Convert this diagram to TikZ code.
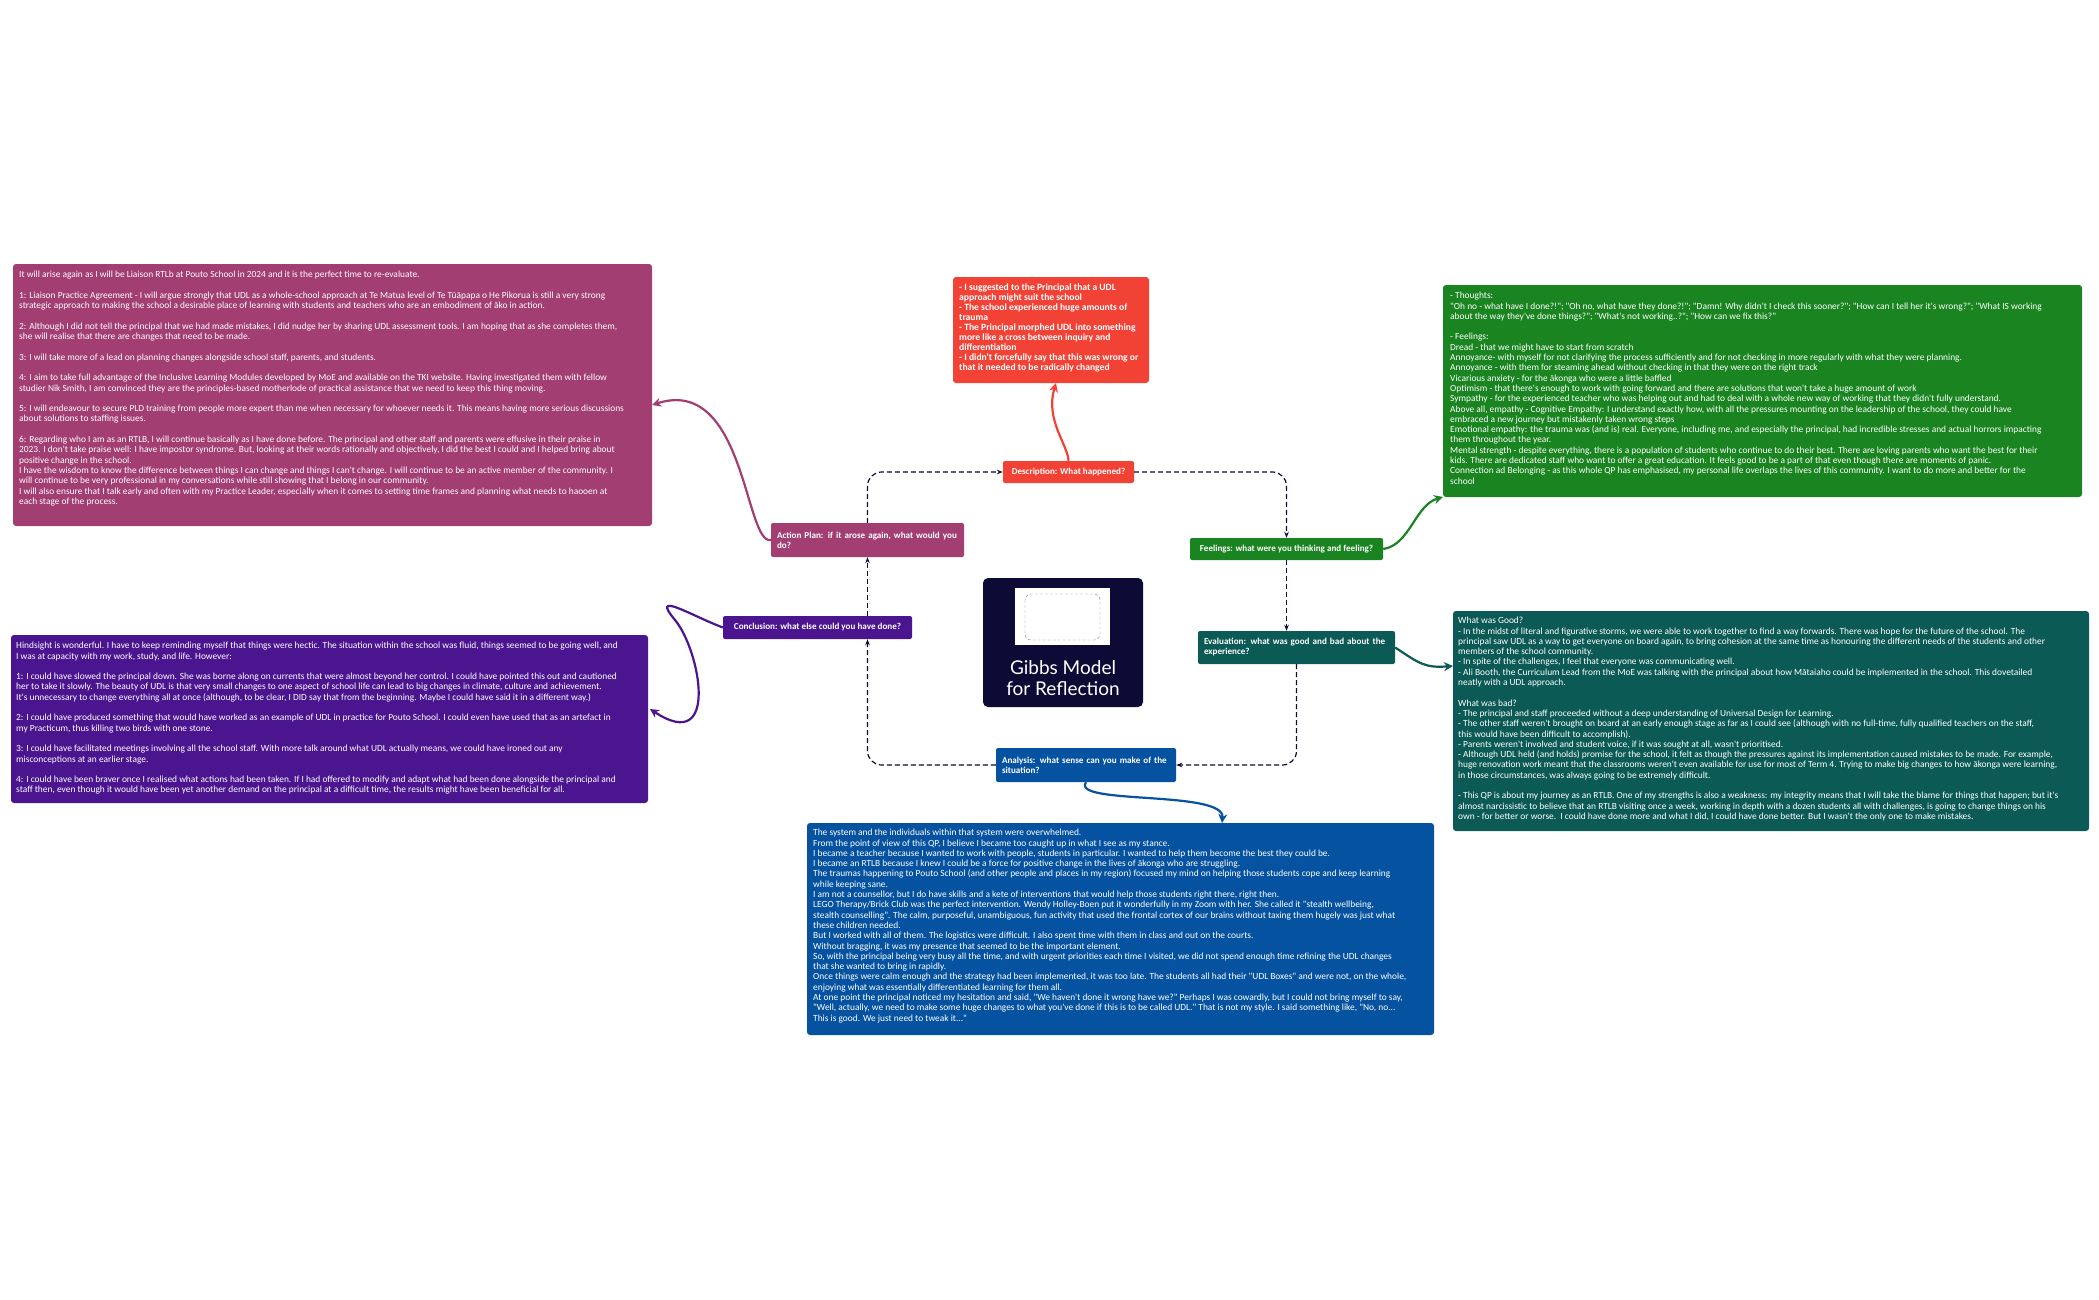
\documentclass[tikz,border=0pt]{standalone}
\usepackage{fontspec}
\setmainfont{Carlito}
\newfontfamily\boxfont{Carlito}
\newfontfamily\titlefont{Lato}
\usetikzlibrary{arrows.meta}
\definecolor{cmag}{HTML}{A23E72}
\definecolor{cpur}{HTML}{4B1590}
\definecolor{cred}{HTML}{F24236}
\definecolor{cgrn}{HTML}{1A8421}
\definecolor{cteal}{HTML}{0B5A55}
\definecolor{cblue}{HTML}{0553A0}
\definecolor{cnavy}{HTML}{0D0B36}
\tikzset{
  box/.style={rounded corners=3pt},
  txt/.style={anchor=north west,inner sep=0pt,align=left,text=white,font=\boxfont\fontsize{9.4}{10.3}\selectfont},
  stage/.style={rounded corners=2pt,text=white,font=\boxfont\bfseries\fontsize{9.1}{10}\selectfont,align=left,inner sep=0pt},
  cyc/.style={draw=cnavy,dash pattern=on 5pt off 3pt,line width=1.2pt,rounded corners=14pt,-{Stealth[length=6pt]}},
  link/.style={line width=2.2pt,-{Stealth[length=9pt,width=9pt]}},
}
\begin{document}
\begin{tikzpicture}[x=1pt,y=-1pt]
\useasboundingbox[fill=white] (0,0) rectangle (2099,1300);
% text boxes
\fill[box,cmag] (13,264) rectangle (652,526);
\node[txt] (tA) at (19,271) {It will arise again as I will be Liaison RTLb at Pouto School in 2024 and it is the perfect time to re-evaluate.\\[10.3pt]
1: Liaison Practice Agreement - I will argue strongly that UDL as a whole-school approach at Te Matua level of Te Tūāpapa o He Pikorua is still a very strong\\
strategic approach to making the school a desirable place of learning with students and teachers who are an embodiment of āko in action.\\[10.3pt]
2: Although I did not tell the principal that we had made mistakes, I did nudge her by sharing UDL assessment tools. I am hoping that as she completes them,\\
she will realise that there are changes that need to be made.\\[10.3pt]
3: I will take more of a lead on planning changes alongside school staff, parents, and students.\\[10.3pt]
4: I aim to take full advantage of the Inclusive Learning Modules developed by MoE and available on the TKI website. Having investigated them with fellow\\
studier Nik Smith, I am convinced they are the principles-based motherlode of practical assistance that we need to keep this thing moving.\\[10.3pt]
5: I will endeavour to secure PLD training from people more expert than me when necessary for whoever needs it. This means having more serious discussions\\
about solutions to staffing issues.\\[10.3pt]
6: Regarding who I am as an RTLB, I will continue basically as I have done before. The principal and other staff and parents were effusive in their praise in\\
2023. I don't take praise well: I have impostor syndrome. But, looking at their words rationally and objectively, I did the best I could and I helped bring about\\
positive change in the school.\\
I have the wisdom to know the difference between things I can change and things I can't change. I will continue to be an active member of the community. I\\
will continue to be very professional in my conversations while still showing that I belong in our community.\\
I will also ensure that I talk early and often with my Practice Leader, especially when it comes to setting time frames and planning what needs to haooen at\\
each stage of the process.};
\fill[box,cpur] (11,635) rectangle (648,803);
\node[txt] (tC) at (16,642) {Hindsight is wonderful. I have to keep reminding myself that things were hectic. The situation within the school was fluid, things seemed to be going well, and\\
I was at capacity with my work, study, and life. However:\\[10.3pt]
1: I could have slowed the principal down. She was borne along on currents that were almost beyond her control. I could have pointed this out and cautioned\\
her to take it slowly. The beauty of UDL is that very small changes to one aspect of school life can lead to big changes in climate, culture and achievement.\\
It's unnecessary to change everything all at once (although, to be clear, I DID say that from the beginning. Maybe I could have said it in a different way.)\\[10.3pt]
2: I could have produced something that would have worked as an example of UDL in practice for Pouto School. I could even have used that as an artefact in\\
my Practicum, thus killing two birds with one stone.\\[10.3pt]
3: I could have facilitated meetings involving all the school staff. With more talk around what UDL actually means, we could have ironed out any\\
misconceptions at an earlier stage.\\[10.3pt]
4: I could have been braver once I realised what actions had been taken. If I had offered to modify and adapt what had been done alongside the principal and\\
staff then, even though it would have been yet another demand on the principal at a difficult time, the results might have been beneficial for all.};
\fill[box,cred] (953,277) rectangle (1149,383);
\node[txt,font=\boxfont\bfseries\fontsize{9.6}{10}\selectfont] (tD) at (959,284) {- I suggested to the Principal that a UDL\\
approach might suit the school\\
- The school experienced huge amounts of\\
trauma\\
- The Principal morphed UDL into something\\
more like a cross between inquiry and\\
differentiation\\
- I didn't forcefully say that this was wrong or\\
that it needed to be radically changed};
\fill[box,cgrn] (1443,285) rectangle (2082,497);
\node[txt] (tF) at (1450,292) {- Thoughts:\\
"Oh no - what have I done?!"; "Oh no, what have they done?!"; "Damn! Why didn't I check this sooner?"; "How can I tell her it's wrong?"; "What IS working\\
about the way they've done things?"; "What's not working..?"; "How can we fix this?"\\[10.3pt]
- Feelings:\\
Dread - that we might have to start from scratch\\
Annoyance- with myself for not clarifying the process sufficiently and for not checking in more regularly with what they were planning.\\
Annoyance - with them for steaming ahead without checking in that they were on the right track\\
Vicarious anxiety - for the ākonga who were a little baffled\\
Optimism - that there's enough to work with going forward and there are solutions that won't take a huge amount of work\\
Sympathy - for the experienced teacher who was helping out and had to deal with a whole new way of working that they didn't fully understand.\\
Above all, empathy - Cognitive Empathy: I understand exactly how, with all the pressures mounting on the leadership of the school, they could have\\
embraced a new journey but mistakenly taken wrong steps\\
Emotional empathy: the trauma was (and is) real. Everyone, including me, and especially the principal, had incredible stresses and actual horrors impacting\\
them throughout the year.\\
Mental strength - despite everything, there is a population of students who continue to do their best. There are loving parents who want the best for their\\
kids. There are dedicated staff who want to offer a great education. It feels good to be a part of that even though there are moments of panic.\\
Connection ad Belonging - as this whole QP has emphasised, my personal life overlaps the lives of this community. I want to do more and better for the\\
school};
\fill[box,cteal] (1453,611) rectangle (2089,831);
\node[txt] (tE) at (1458,617) {What was Good?\\
- In the midst of literal and figurative storms, we were able to work together to find a way forwards. There was hope for the future of the school. The\\
principal saw UDL as a way to get everyone on board again, to bring cohesion at the same time as honouring the different needs of the students and other\\
members of the school community.\\
- In spite of the challenges, I feel that everyone was communicating well.\\
- Ali Booth, the Curriculum Lead from the MoE was talking with the principal about how Mātaiaho could be implemented in the school. This dovetailed\\
neatly with a UDL approach.\\[10.3pt]
What was bad?\\
- The principal and staff proceeded without a deep understanding of Universal Design for Learning.\\
- The other staff weren't brought on board at an early enough stage as far as I could see (although with no full-time, fully qualified teachers on the staff,\\
this would have been difficult to accomplish).\\
- Parents weren't involved and student voice, if it was sought at all, wasn't prioritised.\\
- Although UDL held (and holds) promise for the school, it felt as though the pressures against its implementation caused mistakes to be made. For example,\\
huge renovation work meant that the classrooms weren't even available for use for most of Term 4. Trying to make big changes to how ākonga were learning,\\
in those circumstances, was always going to be extremely difficult.\\[10.3pt]
- This QP is about my journey as an RTLB. One of my strengths is also a weakness: my integrity means that I will take the blame for things that happen; but it's\\
almost narcissistic to believe that an RTLB visiting once a week, working in depth with a dozen students all with challenges, is going to change things on his\\
own - for better or worse.\ \ I could have done more and what I did, I could have done better. But I wasn't the only one to make mistakes.};
\fill[box,cblue] (807,823) rectangle (1434,1035);
\node[txt] (tN) at (813,829) {The system and the individuals within that system were overwhelmed.\\
From the point of view of this QP, I believe I became too caught up in what I see as my stance.\\
I became a teacher because I wanted to work with people, students in particular. I wanted to help them become the best they could be.\\
I became an RTLB because I knew I could be a force for positive change in the lives of ākonga who are struggling.\\
The traumas happening to Pouto School (and other people and places in my region) focused my mind on helping those students cope and keep learning\\
while keeping sane.\\
I am not a counsellor, but I do have skills and a kete of interventions that would help those students right there, right then.\\
LEGO Therapy/Brick Club was the perfect intervention. Wendy Holley-Boen put it wonderfully in my Zoom with her. She called it "stealth wellbeing,\\
stealth counselling". The calm, purposeful, unambiguous, fun activity that used the frontal cortex of our brains without taxing them hugely was just what\\
these children needed.\\
But I worked with all of them. The logistics were difficult. I also spent time with them in class and out on the courts.\\
Without bragging, it was my presence that seemed to be the important element.\\
So, with the principal being very busy all the time, and with urgent priorities each time I visited, we did not spend enough time refining the UDL changes\\
that she wanted to bring in rapidly.\\
Once things were calm enough and the strategy had been implemented, it was too late. The students all had their "UDL Boxes" and were not, on the whole,\\
enjoying what was essentially differentiated learning for them all.\\
At one point the principal noticed my hesitation and said, "We haven't done it wrong have we?" Perhaps I was cowardly, but I could not bring myself to say,\\
"Well, actually, we need to make some huge changes to what you've done if this is to be called UDL." That is not my style. I said something like, "No, no...\\
This is good. We just need to tweak it..."};
% centre
\fill[box,rounded corners=5pt,cnavy] (983,578) rectangle (1143,707);
\fill[white] (1015,588) rectangle (1110,645);
\draw[gray,densely dashed,rounded corners=6pt] (1025,594) rectangle (1100,640);
\node[font=\titlefont\fontsize{19}{21}\selectfont,text=white,align=center] (ctr) at (1063,678) {Gibbs Model\\for Reflection};
% stage nodes
\node[stage,fill=cred,minimum width=131pt,minimum height=22pt,align=center] (D) at (1068.5,472) {Description: What happened?};
\node[stage,fill=cgrn,minimum width=193pt,minimum height=22pt,align=center] (F) at (1286.5,549) {Feelings: what were you thinking and feeling?};
\node[stage,fill=cteal,minimum height=33pt,text width=197pt] (E) at (1296.5,647.5) {\hspace*{6pt}Evaluation: what was good and bad about the\\\hspace*{6pt}experience?};
\node[stage,fill=cblue,minimum height=34pt,text width=180pt] (N) at (1086,765) {\hspace*{6pt}Analysis: what sense can you make of the\\\hspace*{6pt}situation?};
\node[stage,fill=cpur,minimum width=189pt,minimum height=23pt,align=center] (C) at (817.5,627.5) {Conclusion: what else could you have done?};
\node[stage,fill=cmag,minimum height=34pt,text width=193pt] (A) at (867.5,540) {\hspace*{6pt}Action Plan: if it arose again, what would you\\\hspace*{6pt}do?};
\coordinate (rd) at (1056,383);
\coordinate (gl) at (1443,497);
\coordinate (el) at (1453,666);
\coordinate (bt) at (1222,823);
\coordinate (pr) at (650,709);
\coordinate (mr) at (652,405);
% cycle
\draw[cyc] (D.east) -| (F.north);
\draw[cyc] (F.south) -- (E.north -| F.south);
\draw[cyc] (E.south) |- (N.east);
\draw[cyc] (N.west) -| (C.south -| A.south);
\draw[cyc,rounded corners=0pt] (C.north -| A.south) -- (A.south -| A.south);
\draw[cyc] (A.north -| A.south) |- (D.west);
% links
\draw[link,cred] (D.north) .. controls (1068,445) and (1045,420) .. (rd);
\draw[link,cgrn] (F.east) .. controls (1410,545) and (1415,505) .. (gl);
\draw[link,cteal] (E.east) .. controls (1420,664) and (1425,668) .. (el);
\draw[link,cblue] (N.south) .. controls (1070,805) and (1225,790) .. (bt);
\draw[link,cpur] (C.west) .. controls (690,615) and (650,590) .. (675,620) .. controls (700,650) and (720,755) .. (pr);
\draw[link,cmag] (A.west) .. controls (745,545) and (745,375) .. (mr);
\end{tikzpicture}
\end{document}
